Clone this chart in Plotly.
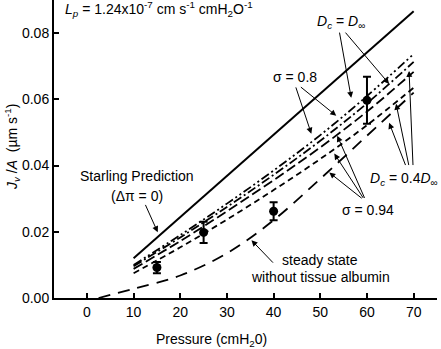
import plotly.graph_objects as go

# ---- data ----
starling_p = [10, 70]
starling_j = [0.0120, 0.0866]

model_p = [10, 20, 30, 40, 50, 60, 70]
sig08_dinf = [0.0100, 0.0190, 0.0285, 0.0385, 0.0492, 0.0610, 0.0737]
sig08_d04 = [0.0096, 0.0183, 0.0275, 0.0372, 0.0475, 0.0588, 0.0713]
sig094_dinf = [0.0088, 0.0172, 0.0262, 0.0356, 0.0455, 0.0563, 0.0683]
sig094_d04 = [0.0075, 0.0153, 0.0237, 0.0326, 0.0420, 0.0522, 0.0635]

steady_p = [2.5, 10, 20, 30, 40, 50, 60, 70]
steady_j = [0.0, 0.0028, 0.0068, 0.0135, 0.0235, 0.0360, 0.0490, 0.0620]

data_p = [15, 25, 40, 60]
data_j = [0.0092, 0.0198, 0.0262, 0.0597]
data_err = [0.0017, 0.0032, 0.0027, 0.0071]

x_ticks = [0, 10, 20, 30, 40, 50, 60, 70]
y_ticks = [0.00, 0.02, 0.04, 0.06, 0.08]

FONT = "Liberation Sans, Arial, sans-serif"

fig = go.Figure()

fig.add_trace(go.Scatter(x=starling_p, y=starling_j, mode="lines",
                         line=dict(color="black", width=2)))
fig.add_trace(go.Scatter(x=model_p, y=sig08_dinf, mode="lines", line_shape="spline",
                         line=dict(color="black", width=1.8, dash="9px,3px,2px,3px,2px,3px")))
fig.add_trace(go.Scatter(x=model_p, y=sig08_d04, mode="lines", line_shape="spline",
                         line=dict(color="black", width=1.8, dash="9px,3px,2px,3px")))
fig.add_trace(go.Scatter(x=model_p, y=sig094_dinf, mode="lines", line_shape="spline",
                         line=dict(color="black", width=1.8, dash="10px,4px")))
fig.add_trace(go.Scatter(x=model_p, y=sig094_d04, mode="lines", line_shape="spline",
                         line=dict(color="black", width=1.8, dash="6px,4px")))
fig.add_trace(go.Scatter(x=steady_p, y=steady_j, mode="lines", line_shape="spline",
                         line=dict(color="black", width=1.8, dash="12px,8px")))
fig.add_trace(go.Scatter(x=data_p, y=data_j, mode="markers",
                         marker=dict(color="black", size=9),
                         error_y=dict(type="data", array=data_err, color="black",
                                      thickness=2, width=4)))

W, H = 441, 349
ML, MR, MT, MB = 54, 4, 0, 51
PW, PH = W - ML - MR, H - MT - MB

def px2x(px):
    return (px - 87) / 4.68

def py2y(py):
    return (298 - py) / 3325

ann = []

def text(px, py, s, anchor="center", angle=0):
    ann.append(dict(x=(px - ML) / PW, y=(H - MB - py) / PH, xref="paper", yref="paper",
                    text=s, showarrow=False, xanchor=anchor, yanchor="middle",
                    textangle=angle,
                    font=dict(family=FONT, size=14, color="black")))

def arrow(tx, ty, hx, hy):
    ann.append(dict(x=px2x(hx), y=py2y(hy), ax=px2x(tx), ay=py2y(ty),
                    xref="x", yref="y", axref="x", ayref="y", text="",
                    showarrow=True, arrowhead=2, arrowsize=1.2, arrowwidth=1,
                    arrowcolor="black"))

text(63, 9, "<i>L<sub>p</sub></i> = 1.24x10<sup>-7</sup> cm s<sup>-1</sup> cmH<sub>2</sub>O<sup>-1</sup>", "left")
text(341, 22, "<i>D<sub>c</sub></i> = <i>D</i><sub>∞</sub>")
text(295, 77, "σ = 0.8")
text(137, 176, "Starling Prediction")
text(137, 196, "(Δπ = 0)")
text(440, 179, "<i>D<sub>c</sub></i> = 0.4<i>D</i><sub>∞</sub>", "right")
text(368, 210, "σ = 0.94")
text(320, 260, "steady state")
text(320, 277, "without tissue albumin")
text(211, 340, "Pressure (cmH<sub>2</sub>0)")
text(12, 147, "<i>J<sub>v</sub></i> /<i>A</i>  (µm s<sup>-1</sup>)", angle=-90)

arrow(340, 30, 352, 97)
arrow(345, 30, 390, 83)
arrow(296, 85, 312, 133)
arrow(300, 85, 337, 115)
arrow(145, 203, 158, 232)
arrow(407, 166, 390, 122)
arrow(410, 166, 397, 103)
arrow(414, 166, 410, 70)
arrow(364, 199, 330, 172)
arrow(365, 199, 335, 153)
arrow(366, 199, 338, 135)
arrow(275, 264, 252, 240)

fig.update_layout(
    width=W, height=H,
    margin=dict(l=ML, r=MR, t=MT, b=MB),
    paper_bgcolor="white", plot_bgcolor="white",
    showlegend=False,
    font=dict(family=FONT, size=14, color="black"),
    annotations=ann,
)

fig.update_xaxes(range=[-7.05, 75], tickvals=x_ticks, ticks="inside", ticklen=5,
                 tickwidth=1.5, tickcolor="black", showline=True, linecolor="black",
                 linewidth=2, showgrid=False, zeroline=False,
                 tickfont=dict(family=FONT, size=14, color="black"))
fig.update_yaxes(range=[0, 0.09], tickvals=y_ticks, tickformat=".2f", ticks="inside",
                 ticklen=5, tickwidth=1.5, tickcolor="black", showline=True,
                 linecolor="black", linewidth=2, showgrid=False, zeroline=False,
                 tickfont=dict(family=FONT, size=14, color="black"))

fig.write_html("out.html", config={"displayModeBar": False},
               post_script="document.body.style.margin='0';document.body.style.overflow='hidden';")
